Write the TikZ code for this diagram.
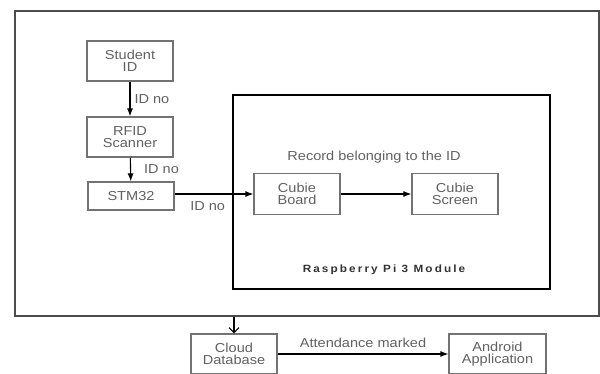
\documentclass[tikz,border=0pt]{standalone}
\usepackage{fontspec}
\setmainfont{Liberation Sans}[FakeStretch=1.12]
\usetikzlibrary{arrows.meta}
\definecolor{txtgray}{gray}{0.38}
\definecolor{boxgray}{gray}{0.45}
\begin{document}
\begin{tikzpicture}[x=1pt, y=-1pt, >={Latex[length=8pt, width=6pt]},
  font=\fontsize{13}{12}\selectfont, text=txtgray,
  blok/.style={draw=boxgray, line width=1.2pt, minimum width=86pt, minimum height=40pt, align=center, inner sep=1pt},
  tok/.style={->, line width=1.1pt},
  lbl/.style={inner sep=1pt}]
  \useasboundingbox (0,0) rectangle (600,374);

  % ---- okvir sustava ----
  \node[draw=black!70, line width=1.6pt, minimum width=584pt, minimum height=305pt] (sustav) at (307,163.5) {};
  \node[draw=black, line width=1.3pt, minimum width=317pt, minimum height=194pt] (rpi) at (391.5,192) {};
  \node[font=\fontsize{10.5}{12}\selectfont\bfseries\addfontfeature{LetterSpace=20}, text=black!80] (rpinaziv) at (384,270) {Raspberry Pi 3 Module};

  % ---- ulazni lanac ----
  \node[blok] (student) at (130,61) {Student\\ID};
  \node[blok] (rfid) at (130,137) {RFID\\Scanner};
  \node[blok, minimum height=28pt] (stm) at (131,196) {STM32};

  % ---- Cubie ----
  \node[blok, minimum height=41pt] (ploca) at (297,194) {Cubie\\Board};
  \node[blok, minimum height=41pt] (ekran) at (455,194) {Cubie\\Screen};
  \node[lbl] (zapis) at (374,157) {Record belonging to the ID};

  % ---- oblak i aplikacija ----
  \node[blok] (oblak) at (234,354) {Cloud\\Database};
  \node[blok, minimum width=97pt] (android) at (497.5,354) {Android\\Application};

  % ---- strelice ----
  \draw[tok] (student) -- (rfid) node[lbl, midway, right=3pt] {ID no};
  \draw[tok] (rfid) -- (stm) node[lbl, midway, right=12pt] {ID no};
  \draw[tok] (stm.east |- ploca.west) -- (ploca.west) node[lbl, pos=0.42, below=6pt] {ID no};
  \draw[tok] (ploca) -- (ekran);
  \draw[line width=1.1pt, -{Straight Barb[length=5pt, width=10pt]}] (sustav.south -| oblak.north) -- (oblak.north);
  \draw[tok] (oblak) -- (android) node[lbl, midway, above=5pt] {Attendance marked};
\end{tikzpicture}
\end{document}
